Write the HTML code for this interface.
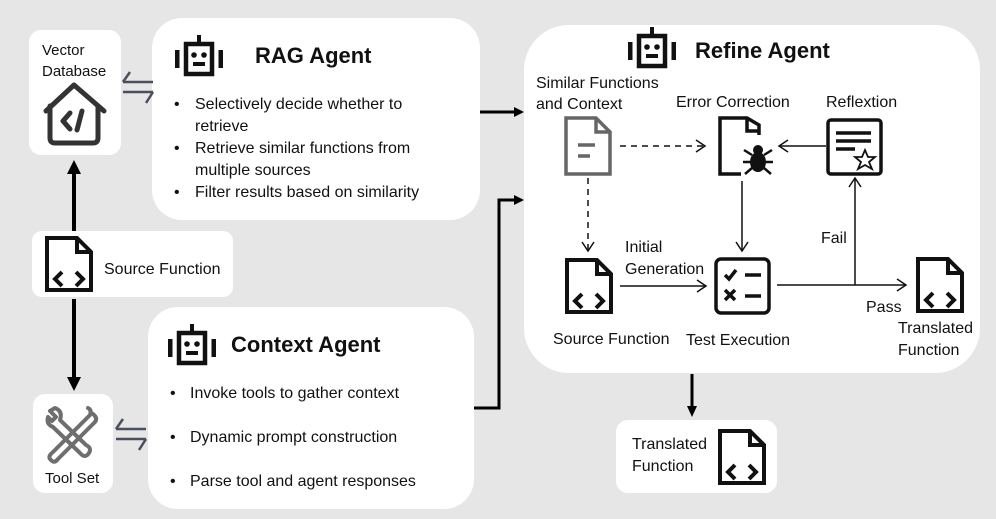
<!DOCTYPE html>
<html><head><meta charset="utf-8"><style>
html,body{margin:0;padding:0;background:#e6e6e6;}
svg{display:block;font-family:"Liberation Sans",sans-serif;}
</style></head><body>
<svg width="996" height="519" viewBox="0 0 996 519" xmlns="http://www.w3.org/2000/svg">
<defs>
<g id="cdoc" fill="none" stroke="#111" stroke-width="4" stroke-linejoin="miter">
<path d="M2,2 H32 L46,16 V54 H2 Z"/><path d="M32,2 V16 H46"/>
<path d="M17,36 L10,43 L17,50"/><path d="M31,36 L38,43 L31,50"/>
</g>
<g id="robot">
<rect x="11" y="9" width="26" height="30" fill="none" stroke="#111" stroke-width="4.5"/>
<rect x="22" y="0" width="4" height="9" fill="#111"/>
<rect x="0" y="15" width="4.5" height="18" fill="#111"/>
<rect x="43.5" y="15" width="4.5" height="18" fill="#111"/>
<circle cx="19" cy="20" r="2.8" fill="#111"/><circle cx="29" cy="20" r="2.8" fill="#111"/>
<rect x="18" y="27" width="12" height="4" fill="#111"/>
</g>
<marker id="oa" markerWidth="12" markerHeight="14" refX="10" refY="7" orient="auto" markerUnits="userSpaceOnUse"><path d="M1,1 L10,7 L1,13" fill="none" stroke="#111" stroke-width="1.5"/></marker>
</defs>
<rect width="996" height="519" fill="#e6e6e6"/>

<rect x="29" y="30" width="92" height="125" rx="12" fill="#fff"/>
<rect x="152" y="18" width="328" height="202" rx="30" fill="#fff"/>
<rect x="32" y="231" width="201" height="66" rx="10" fill="#fff"/>
<rect x="33" y="394" width="80" height="99" rx="12" fill="#fff"/>
<rect x="148" y="307" width="326" height="202" rx="30" fill="#fff"/>
<rect x="524" y="25" width="456" height="348" rx="45" fill="#fff"/>
<rect x="616" y="420" width="161" height="73" rx="12" fill="#fff"/>

<text x="42" y="55" font-size="15" fill="#111">Vector</text>
<text x="42" y="76" font-size="15" fill="#111">Database</text>
<g fill="none" stroke="#333" stroke-width="5" stroke-linejoin="round" stroke-linecap="round">
<path d="M46,111 L74,85 L104,111"/>
<path d="M50,106 V138 Q50,143 55,143 H93 Q98,143 98,138 V106"/>
<path d="M70,113 L63,121 L70,129"/><path d="M82,111 L77,130"/>
</g>
<g fill="none" stroke="#4a4e5e" stroke-width="2.5">
<path d="M123,82 L153,82 M123,82 L130,72"/><path d="M123,92 L153,92 M153,92 L146,103"/>
<path d="M116,429 L146,429 M116,429 L123,419"/><path d="M116,439 L146,439 M146,439 L139,450"/>
</g>

<use href="#robot" x="175" y="35"/>
<text x="255" y="63" font-size="22" font-weight="bold" fill="#111">RAG Agent</text>
<g font-size="16" fill="#111">
<text x="174" y="109">•</text><text x="195" y="109">Selectively decide whether to</text>
<text x="195" y="131">retrieve</text>
<text x="174" y="153">•</text><text x="195" y="153">Retrieve similar functions from</text>
<text x="195" y="175">multiple sources</text>
<text x="174" y="197">•</text><text x="195" y="197">Filter results based on similarity</text>
</g>

<use href="#cdoc" x="45" y="236"/>
<text x="104" y="274" font-size="16" fill="#111">Source Function</text>

<line x1="74" y1="231" x2="74" y2="172" stroke="#000" stroke-width="4"/>
<path d="M67,174 L74,160 L81,174 Z" fill="#000"/>
<line x1="74" y1="299" x2="74" y2="378" stroke="#000" stroke-width="4"/>
<path d="M67,377 L74,391 L81,377 Z" fill="#000"/>

<g fill="none" stroke="#6e6e6e" stroke-width="4" stroke-linecap="round" stroke-linejoin="round">
<path d="M50,411 L56,417 L52,421 L48,417 Q46,424 53,427 L80,453 Q85,459 89,453 Q92,448 86,445 L60,420 Q63,411 55,408 Z"/>
<path d="M88,408 Q92,410 90,415 L66,439 L53,452 Q48,456 50,459 L52,461 Q55,463 58,459 L71,446 L95,422 Q98,418 93,414"/>
</g>
<text x="45" y="483" font-size="15" fill="#111">Tool Set</text>

<use href="#robot" x="168" y="324"/>
<text x="231" y="352" font-size="22" font-weight="bold" fill="#111">Context Agent</text>
<g font-size="16" fill="#111">
<text x="170" y="398">•</text><text x="190" y="398">Invoke tools to gather context</text>
<text x="170" y="442">•</text><text x="190" y="442">Dynamic prompt construction</text>
<text x="170" y="486">•</text><text x="190" y="486">Parse tool and agent responses</text>
</g>

<line x1="480" y1="112" x2="516" y2="112" stroke="#000" stroke-width="3"/>
<path d="M514,107 L524,112 L514,117 Z" fill="#000"/>
<path d="M474,408 H499 V200 H516" fill="none" stroke="#000" stroke-width="3"/>
<path d="M514,195 L524,200 L514,205 Z" fill="#000"/>
<line x1="692" y1="374" x2="692" y2="408" stroke="#000" stroke-width="3"/>
<path d="M687,406 L692,417 L697,406 Z" fill="#000"/>

<use href="#robot" x="628" y="27"/>
<text x="695" y="58" font-size="22" font-weight="bold" fill="#111">Refine Agent</text>
<g font-size="16" fill="#111">
<text x="536" y="88">Similar Functions</text>
<text x="536" y="109">and Context</text>
<text x="676" y="107">Error Correction</text>
<text x="826" y="107">Reflextion</text>
<text x="625" y="252">Initial</text>
<text x="625" y="274">Generation</text>
<text x="553" y="344">Source Function</text>
<text x="686" y="345">Test Execution</text>
<text x="821" y="243">Fail</text>
<text x="866" y="312">Pass</text>
<text x="898" y="333">Translated</text>
<text x="898" y="355">Function</text>
</g>
<g fill="none" stroke="#666" stroke-width="3.5">
<path d="M566,118 H596 L610,132 V174 H566 Z"/><path d="M596,118 V132 H610"/>
<path d="M578,145 H595 M578,156 H590"/>
</g>
<g fill="none" stroke="#111" stroke-width="3.5">
<path d="M759,135 V125 L747,118 H720 V174 H741"/><path d="M747,118 V131 H759"/>
</g>
<g fill="#111" stroke="#111">
<ellipse cx="758" cy="162" rx="8" ry="10" stroke="none"/><circle cx="758" cy="150" r="5" stroke="none"/>
<path d="M744,150 L752,155 M772,150 L764,155 M743,162 L773,162 M745,174 L752,168 M771,174 L764,168" stroke-width="2.5" fill="none"/>
</g>
<g fill="none" stroke="#111" stroke-width="3.5">
<rect x="828" y="120" width="53" height="54" rx="3"/>
<path d="M836,133 H871 M836,141 H871 M836,149 H855"/>
</g>
<path d="M865,150 L868,157 L875,157 L869,162 L872,169 L865,165 L858,169 L861,162 L855,157 L862,157 Z" fill="#fff" stroke="#111" stroke-width="1.8"/>
<use href="#cdoc" x="565" y="258"/>
<g fill="none" stroke="#111" stroke-width="3.5">
<rect x="716" y="259" width="53" height="54" rx="5"/>
<path d="M725,275 L729,279 L736,270"/><path d="M745,275 H761"/>
<path d="M725,290 L735,300 M735,290 L725,300"/><path d="M745,296 H761"/>
</g>
<use href="#cdoc" x="916" y="257"/>
<text x="632" y="449" font-size="16" fill="#111">Translated</text>
<text x="632" y="471" font-size="16" fill="#111">Function</text>
<use href="#cdoc" x="718" y="429"/>

<g stroke="#111" stroke-width="1.5" fill="none">
<line x1="620" y1="146" x2="705" y2="146" stroke-dasharray="6,5" marker-end="url(#oa)"/>
<line x1="588" y1="178" x2="588" y2="251" stroke-dasharray="6,5" marker-end="url(#oa)"/>
<line x1="826" y1="146" x2="779" y2="146" marker-end="url(#oa)"/>
<line x1="742" y1="181" x2="742" y2="251" marker-end="url(#oa)"/>
<line x1="620" y1="286" x2="706" y2="286" marker-end="url(#oa)"/>
<line x1="777" y1="285" x2="906" y2="285" marker-end="url(#oa)"/>
<line x1="855" y1="285" x2="855" y2="178" marker-end="url(#oa)"/>
</g>
</svg>
</body></html>
